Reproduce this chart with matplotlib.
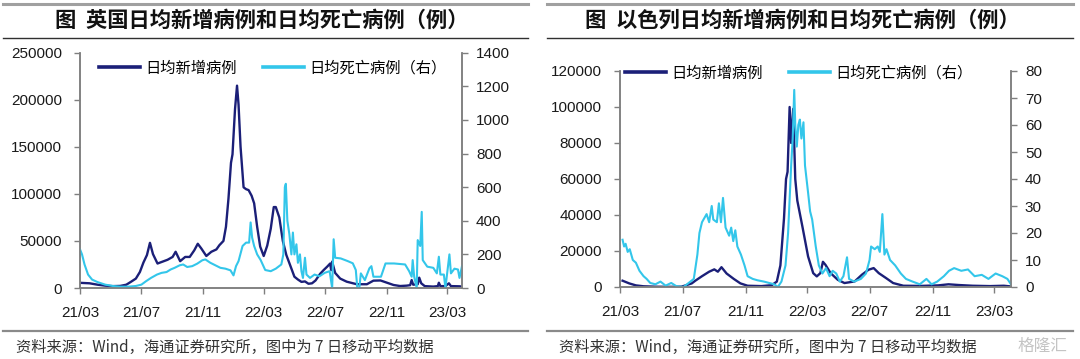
import matplotlib
matplotlib.use("Agg")
import matplotlib.pyplot as plt
from matplotlib.lines import Line2D
import pandas as pd

plt.rcParams['font.family'] = ['Liberation Sans', 'Noto Sans CJK SC', 'DejaVu Sans']
CJK = ['Noto Sans CJK SC', 'DejaVu Sans']

# ---------------- data ----------------
titles = ["图  英国日均新增病例和日均死亡病例（例）", "图  以色列日均新增病例和日均死亡病例（例）"]
legend_labels = ["日均新增病例", "日均死亡病例（右）"]
source_text = "资料来源：Wind，海通证券研究所，图中为 7 日移动平均数据"
xtick_labels = ["21/03", "21/07", "21/11", "22/03", "22/07", "22/11", "23/03"]

uk_case_dates = ["2021-03-01", "2021-03-20", "2021-04-05", "2021-04-20", "2021-05-05", "2021-05-20",
                 "2021-06-01", "2021-06-10", "2021-06-20", "2021-06-28", "2021-07-05", "2021-07-12",
                 "2021-07-18", "2021-07-24", "2021-08-02", "2021-08-12", "2021-08-22", "2021-09-01",
                 "2021-09-07", "2021-09-16", "2021-09-26", "2021-10-05", "2021-10-14", "2021-10-21",
                 "2021-10-28", "2021-11-07", "2021-11-17", "2021-11-27", "2021-12-03", "2021-12-11",
                 "2021-12-16", "2021-12-21", "2021-12-26", "2021-12-29", "2022-01-03", "2022-01-07",
                 "2022-01-10", "2022-01-14", "2022-01-20", "2022-01-25", "2022-01-30", "2022-02-05",
                 "2022-02-10", "2022-02-16", "2022-02-22", "2022-03-01", "2022-03-08", "2022-03-15",
                 "2022-03-21", "2022-03-25", "2022-04-01", "2022-04-08", "2022-04-15", "2022-04-22",
                 "2022-05-01", "2022-05-08", "2022-05-15", "2022-05-22", "2022-05-29", "2022-06-05",
                 "2022-06-12", "2022-06-21", "2022-06-28", "2022-07-05", "2022-07-11", "2022-07-13",
                 "2022-07-15", "2022-07-21", "2022-07-31", "2022-08-13", "2022-09-02", "2022-09-22",
                 "2022-10-05", "2022-10-19", "2022-11-01", "2022-11-14", "2022-11-27", "2022-12-10",
                 "2022-12-17", "2022-12-20", "2022-12-23", "2023-01-01", "2023-01-04", "2023-01-08",
                 "2023-01-15", "2023-02-01", "2023-02-10", "2023-02-12", "2023-02-15", "2023-02-25",
                 "2023-03-04", "2023-03-08", "2023-03-25", "2023-03-30"]
uk_cases = [5500, 5000, 3500, 2500, 2000, 2200,
            3500, 6500, 10000, 17000, 27000, 35000,
            48000, 36000, 26000, 28000, 30000, 33000,
            38500, 28500, 33000, 33000, 40000, 47000,
            42000, 34000, 38500, 41000, 45500, 50000,
            65000, 95000, 133000, 142000, 190000, 215000,
            195000, 150000, 107000, 105000, 104000, 98000,
            90000, 65000, 44000, 34000, 45000, 63000,
            86000, 86000, 75000, 50000, 35000, 25000,
            12000, 9000, 6500, 7000, 4500, 5000,
            8000, 15000, 19000, 22600, 26000, 19000,
            28000, 16000, 10000, 6700, 4000, 4000,
            7800, 8000, 5600, 3200, 2100, 2500,
            3000, 8500, 3500, 4000, 11000, 5000,
            2000, 1500, 2000, 5600, 2000, 2000,
            5000, 2000, 1800, 1500]

uk_death_dates = ["2021-03-01", "2021-03-05", "2021-03-10", "2021-03-17", "2021-03-25", "2021-04-05",
                  "2021-04-20", "2021-05-05", "2021-05-20", "2021-06-05", "2021-06-20", "2021-07-01",
                  "2021-07-10", "2021-07-20", "2021-08-01", "2021-08-10", "2021-08-20", "2021-08-28",
                  "2021-09-05", "2021-09-15", "2021-09-22", "2021-09-30", "2021-10-10", "2021-10-20",
                  "2021-10-30", "2021-11-05", "2021-11-15", "2021-11-25", "2021-12-05", "2021-12-15",
                  "2021-12-25", "2021-12-31", "2022-01-05", "2022-01-10", "2022-01-18", "2022-01-25",
                  "2022-01-31", "2022-02-03", "2022-02-06", "2022-02-10", "2022-02-16", "2022-02-23",
                  "2022-03-04", "2022-03-15", "2022-03-25", "2022-04-05", "2022-04-09", "2022-04-12",
                  "2022-04-14", "2022-04-17", "2022-04-21", "2022-04-25", "2022-04-28", "2022-05-01",
                  "2022-05-05", "2022-05-08", "2022-05-12", "2022-05-15", "2022-05-18", "2022-05-22",
                  "2022-05-25", "2022-06-01", "2022-06-10", "2022-06-20", "2022-06-30", "2022-07-10",
                  "2022-07-15", "2022-07-18", "2022-07-21", "2022-08-01", "2022-08-15", "2022-08-25",
                  "2022-08-31", "2022-09-03", "2022-09-07", "2022-09-10", "2022-09-18", "2022-09-27",
                  "2022-10-01", "2022-10-05", "2022-10-20", "2022-10-29", "2022-11-15", "2022-12-07",
                  "2022-12-15", "2022-12-20", "2022-12-22", "2022-12-25", "2022-12-30", "2023-01-01",
                  "2023-01-06", "2023-01-09", "2023-01-11", "2023-01-20", "2023-02-01", "2023-02-08",
                  "2023-02-12", "2023-02-15", "2023-02-22", "2023-02-25", "2023-03-01", "2023-03-05",
                  "2023-03-08", "2023-03-15", "2023-03-22", "2023-03-25", "2023-03-30"]
uk_deaths = [230, 200, 140, 80, 50, 35,
             20, 12, 8, 8, 12, 20,
             40, 60, 80, 90, 95, 110,
             120, 135, 140, 125, 130, 145,
             165, 170, 150, 135, 120, 115,
             105, 75, 130, 160, 250, 270,
             270, 390, 300, 250, 200, 166,
             107, 100, 115, 140, 200, 600,
             620, 400, 320, 200, 330, 200,
             260, 150, 200, 100, 60, 180,
             80, 60, 80, 70, 90, 100,
             0, 290, 180, 176, 160, 147,
             107, 0, 0, 87, 47, 117,
             130, 67, 67, 146, 146, 140,
             100, 67, 166, 67, 0, 285,
             250, 453, 166, 127, 120, 87,
             186, 80, 80, 0, 100, 200,
             87, 115, 110, 60, 130]

il_case_dates = ["2021-03-06", "2021-03-19", "2021-04-01", "2021-04-16", "2021-05-13", "2021-06-09",
                 "2021-06-29", "2021-07-06", "2021-07-19", "2021-07-26", "2021-08-08", "2021-08-22",
                 "2021-09-01", "2021-09-08", "2021-09-15", "2021-09-25", "2021-10-09", "2021-10-22",
                 "2021-11-05", "2021-12-02", "2021-12-22", "2022-01-01", "2022-01-08", "2022-01-15",
                 "2022-01-19", "2022-01-22", "2022-01-26", "2022-01-29", "2022-02-02", "2022-02-06",
                 "2022-02-10", "2022-02-20", "2022-03-03", "2022-03-13", "2022-03-20", "2022-03-27",
                 "2022-04-01", "2022-04-06", "2022-04-16", "2022-04-30", "2022-05-13", "2022-06-02",
                 "2022-06-16", "2022-06-29", "2022-07-09", "2022-07-19", "2022-08-02", "2022-08-16",
                 "2022-09-05", "2022-10-09", "2022-11-12", "2022-12-02", "2022-12-22", "2023-01-18",
                 "2023-02-21", "2023-03-20", "2023-04-03"]
il_cases = [3500, 2000, 900, 400, 150, 100,
            200, 800, 2000, 3500, 6000, 8500,
            9800, 8500, 11000, 7500, 4500, 2000,
            700, 500, 1000, 3000, 12000, 38000,
            60000, 64000, 100000, 80000, 99000, 60000,
            48000, 33500, 17000, 7700, 5900, 7700,
            14000, 12300, 7700, 4000, 2200, 3100,
            6800, 9600, 10500, 7700, 5000, 2200,
            700, 600, 900, 1500, 1100, 700,
            500, 700, 300]

il_death_dates = ["2021-03-06", "2021-03-09", "2021-03-12", "2021-03-16", "2021-03-20", "2021-03-26",
                  "2021-04-01", "2021-04-08", "2021-04-16", "2021-04-22", "2021-04-29", "2021-05-09",
                  "2021-05-19", "2021-05-29", "2021-06-09", "2021-06-19", "2021-07-03", "2021-07-13",
                  "2021-07-23", "2021-07-30", "2021-08-03", "2021-08-08", "2021-08-17", "2021-08-22",
                  "2021-08-27", "2021-08-30", "2021-09-06", "2021-09-10", "2021-09-14", "2021-09-18",
                  "2021-09-23", "2021-09-30", "2021-10-04", "2021-10-08", "2021-10-12", "2021-10-16",
                  "2021-10-23", "2021-10-30", "2021-11-05", "2021-11-15", "2021-11-24", "2021-12-07",
                  "2021-12-27", "2022-01-03", "2022-01-10", "2022-01-18", "2022-01-23", "2022-01-29",
                  "2022-02-01", "2022-02-04", "2022-02-06", "2022-02-09", "2022-02-12", "2022-02-15",
                  "2022-02-18", "2022-02-22", "2022-02-25", "2022-03-03", "2022-03-07", "2022-03-11",
                  "2022-03-18", "2022-03-24", "2022-03-31", "2022-04-07", "2022-04-14", "2022-04-20",
                  "2022-04-27", "2022-05-04", "2022-05-11", "2022-05-18", "2022-05-22", "2022-06-01",
                  "2022-06-14", "2022-06-24", "2022-07-01", "2022-07-04", "2022-07-11", "2022-07-17",
                  "2022-07-21", "2022-07-26", "2022-07-30", "2022-08-03", "2022-08-10", "2022-08-20",
                  "2022-08-31", "2022-09-10", "2022-09-23", "2022-10-07", "2022-10-20", "2022-10-30",
                  "2022-11-10", "2022-11-23", "2022-12-03", "2022-12-13", "2022-12-27", "2023-01-09",
                  "2023-01-22", "2023-02-05", "2023-02-18", "2023-03-04", "2023-03-17", "2023-03-27",
                  "2023-04-03"]
il_deaths = [17.5, 15, 16, 13, 14, 10,
             9, 6, 4, 3, 1.5, 1,
             2, 0.5, 1.5, 0.3, 0, 1.5,
             3, 12, 20, 24, 27, 24,
             30, 25, 24, 31, 24, 33,
             22, 19, 22, 17, 21, 15,
             12, 8, 4, 3, 2.5, 2,
             1, 0, 2, 8, 20, 45,
             55, 73, 60, 52, 60, 62,
             55, 61, 45, 35, 28, 25,
             15, 8, 5, 7, 4, 6,
             5, 2, 4, 11, 3, 2,
             3, 5, 10, 15, 14, 15,
             13, 27, 12, 14, 10, 8,
             5, 3, 2, 1, 3, 1,
             2, 4, 6, 7, 6, 6.5,
             4, 4.5, 3, 5, 4, 3,
             1]

# ---------------- style ----------------
NAVY = '#1b1f78'
CYAN = '#33c6ea'
SPINE = '#7f7f7f'
W, H = 1080, 359

fig = plt.figure(figsize=(W / 100, H / 100), dpi=100)


def fx(px):
    return px / W


def fy(py):
    return 1 - py / H


def hline(x0, x1, y, color, lw):
    fig.add_artist(Line2D([fx(x0), fx(x1)], [fy(y), fy(y)], color=color, lw=lw,
                          transform=fig.transFigure))


panels = [
    dict(rect=[fx(80), fy(288), fx(462) - fx(80), fy(52.7) - fy(288)],
         xlim=("2021-03-01", "2023-03-30"), ylim=250000, ystep=50000, y2lim=1400, y2step=200,
         cd=uk_case_dates, cv=uk_cases, dd=uk_death_dates, dv=uk_deaths,
         frame=(3, 528), title_x=55, src_x=16,
         leg_anchor=(0.05, 0.97)),
    dict(rect=[fx(620), fy(287), fx(1011) - fx(620), fy(71) - fy(287)],
         xlim=("2021-03-01", "2023-04-03"), ylim=120000, ystep=20000, y2lim=80, y2step=10,
         cd=il_case_dates, cv=il_cases, dd=il_death_dates, dv=il_deaths,
         frame=(547, 1073), title_x=585, src_x=559,
         leg_anchor=(0.012, 1.03)),
]

for i, p in enumerate(panels):
    ax = fig.add_axes(p['rect'])
    ax2 = ax.twinx()
    l1, = ax.plot(pd.to_datetime(p['cd']), p['cv'], color=NAVY, lw=1.7, label=legend_labels[0])
    l2, = ax2.plot(pd.to_datetime(p['dd']), p['dv'], color=CYAN, lw=1.5, label=legend_labels[1])

    ax.set_xlim(pd.Timestamp(p['xlim'][0]), pd.Timestamp(p['xlim'][1]))
    ax.set_ylim(0, p['ylim'])
    ax2.set_ylim(0, p['y2lim'])
    ax.set_yticks(range(0, p['ylim'] + 1, p['ystep']))
    ax2.set_yticks(range(0, p['y2lim'] + 1, p['y2step']))
    ticks = [pd.Timestamp("20" + t[:2] + "-" + t[3:] + "-01") for t in xtick_labels]
    ax.set_xticks(ticks)
    ax.set_xticklabels(xtick_labels)

    for a in (ax, ax2):
        a.spines['top'].set_visible(False)
        for s in ('left', 'right', 'bottom'):
            a.spines[s].set_color(SPINE)
            a.spines[s].set_linewidth(1.1)
        a.tick_params(colors=SPINE, labelcolor='#1a1a1a', labelsize=11, length=4, width=1.0)
    ax.tick_params(axis='x', pad=9)
    ax.tick_params(axis='y', pad=9)
    ax2.tick_params(axis='y', pad=6)

    leg = ax2.legend([l1, l2], legend_labels, ncol=2, loc='upper left', bbox_to_anchor=p['leg_anchor'],
                     frameon=False, prop={'family': CJK, 'size': 11}, handlelength=2.7,
                     handletextpad=0.35, columnspacing=1.7, borderpad=0, borderaxespad=0)
    for h in leg.legend_handles:
        h.set_linewidth(2.6)

    x0, x1 = p['frame']
    hline(x0, x1, 3.5, '#a0a0a0', 2.2)
    hline(x0, x1, 38, '#303030', 1.0)
    hline(x0, x1, 331, '#8a8a8a', 1.6)
    fig.text(fx(p['title_x']), fy(20.5), titles[i], family=CJK, fontsize=15.3, fontweight='bold',
             color='#111111', ha='left', va='center')
    fig.text(fx(p['src_x']), fy(347), source_text, family=CJK, fontsize=11,
             color='#333333', ha='left', va='center')

fig.text(fx(1042), fy(346), "格隆汇", family=CJK, fontsize=12, color='#c4c4c4',
         ha='center', va='center')

fig.savefig("out.png", dpi=100)
